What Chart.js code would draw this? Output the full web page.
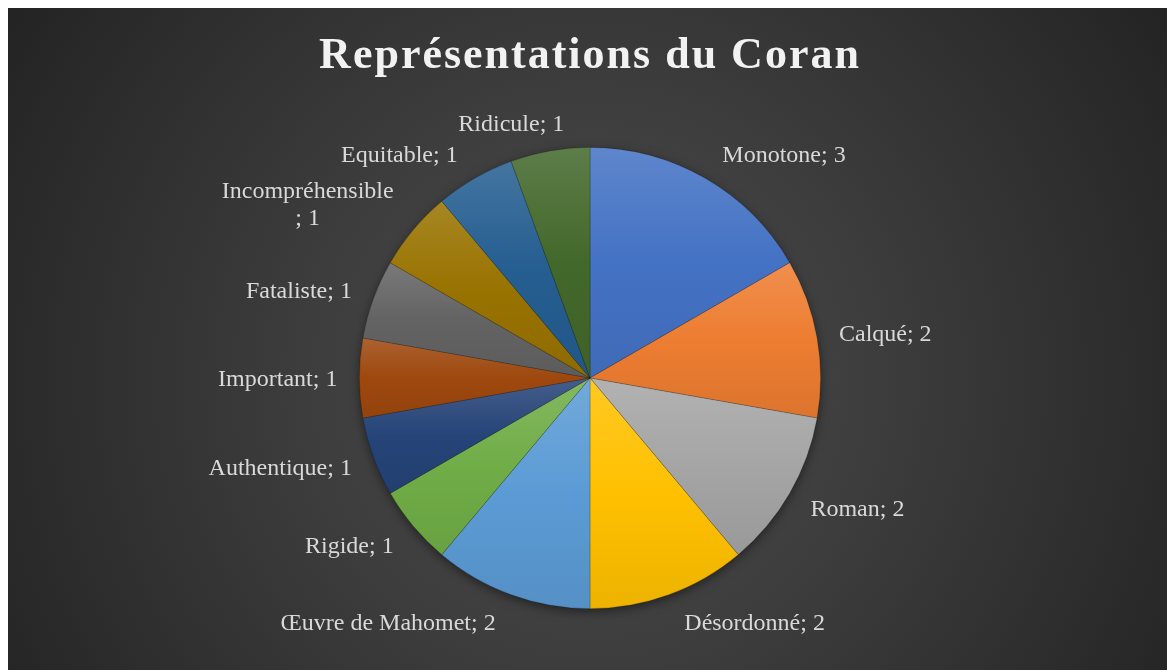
<!DOCTYPE html>
<html lang="fr">
<head>
<meta charset="utf-8">
<title>Représentations du Coran</title>
<script src="https://cdn.jsdelivr.net/npm/chart.js@4.4.1/dist/chart.umd.min.js"></script>
<style>
  html, body { margin: 0; padding: 0; background: #ffffff; }
  canvas { display: block; }
</style>
</head>
<body>
<canvas id="representations" width="1167" height="670"></canvas>
<script>
const titre = "Représentations du Coran";
const categories = [
  "Monotone",
  "Calqué",
  "Roman",
  "Désordonné",
  "Œuvre de Mahomet",
  "Rigide",
  "Authentique",
  "Important",
  "Fataliste",
  "Incompréhensible",
  "Equitable",
  "Ridicule",
];
const valeurs = [3, 2, 2, 2, 2, 1, 1, 1, 1, 1, 1, 1];
const couleurs = [
  "#4472C4", // bleu
  "#ED7D31", // orange
  "#A5A5A5", // gris
  "#FFC000", // or
  "#5B9BD5", // bleu clair
  "#70AD47", // vert
  "#264478", // bleu foncé
  "#9E480E", // orange foncé
  "#636363", // gris foncé
  "#997300", // or foncé
  "#255E91", // bleu acier
  "#43682B", // vert foncé
];
// étiquettes qu'Excel coupe sur deux lignes
const etiquettes_coupees = ["Incompréhensible"];

function melange(hex, cible, t) {
  const a = parseInt(hex.slice(1), 16);
  const b = parseInt(cible.slice(1), 16);
  const ca = [(a >> 16) & 255, (a >> 8) & 255, a & 255];
  const cb = [(b >> 16) & 255, (b >> 8) & 255, b & 255];
  const c = ca.map((v, k) => Math.round(v + (cb[k] - v) * t));
  return `rgb(${c[0]}, ${c[1]}, ${c[2]})`;
}

// dégradé vertical sur la boîte englobante de chaque part
function degradeTranche(context) {
  const chart = context.chart;
  const area = chart.chartArea;
  const i = context.dataIndex;
  if (!area) return couleurs[i];
  const data = chart.data.datasets[0].data;
  const cx = (area.left + area.right) / 2;
  const cy = (area.top + area.bottom) / 2;
  const r = Math.min(area.right - area.left, area.bottom - area.top) / 2;
  const total = data.reduce((s, v) => s + v, 0);
  let debut = 0;
  for (let k = 0; k < i; k++) debut += data[k];
  const a0 = (debut / total) * 2 * Math.PI;
  const a1 = ((debut + data[i]) / total) * 2 * Math.PI;
  const ys = [cy, cy - r * Math.cos(a0), cy - r * Math.cos(a1)];
  if (a0 <= 0.0001 || a1 >= 2 * Math.PI - 0.0001) ys.push(cy - r);
  if (a0 <= Math.PI && a1 >= Math.PI) ys.push(cy + r);
  const yMin = Math.min(...ys);
  const yMax = Math.max(...ys);
  const g = chart.ctx.createLinearGradient(0, yMin, 0, yMax);
  g.addColorStop(0, melange(couleurs[i], "#ffffff", 0.14));
  g.addColorStop(0.5, couleurs[i]);
  g.addColorStop(1, melange(couleurs[i], "#000000", 0.07));
  return g;
}

const plugin_fond = {
  id: "fond",
  beforeDraw: (chart) => {
    const ctx = chart.ctx;
    const w = chart.width;
    const h = chart.height;
    ctx.save();
    ctx.fillStyle = "#ffffff";
    ctx.fillRect(0, 0, w, h);
    const g = ctx.createRadialGradient(590, 380, 0, 590, 380, 680);
    g.addColorStop(0, "#4f4f4f");
    g.addColorStop(1, "#242424");
    ctx.fillStyle = g;
    ctx.fillRect(8, 8, w - 8, h - 8);

    // titre
    ctx.font = "bold 44px 'Liberation Serif', 'Times New Roman', serif";
    ctx.fillStyle = "#f2f2f2";
    ctx.textBaseline = "alphabetic";
    ctx.textAlign = "left";
    if ("letterSpacing" in ctx) ctx.letterSpacing = "2px";
    const largeur = ctx.measureText(titre).width - 2;
    ctx.fillText(titre, 589 - largeur / 2, 68);
    ctx.restore();
  },
};

const plugin_ombre = {
  id: "ombre",
  beforeDatasetsDraw: (chart) => {
    const arc = chart.getDatasetMeta(0).data[0];
    if (!arc) return;
    const ctx = chart.ctx;
    ctx.save();
    ctx.shadowColor = "rgba(0, 0, 0, 0.55)";
    ctx.shadowBlur = 12;
    ctx.shadowOffsetY = 3;
    ctx.fillStyle = "#3a3a3a";
    ctx.beginPath();
    ctx.arc(arc.x, arc.y, arc.outerRadius - 1, 0, 2 * Math.PI);
    ctx.fill();
    ctx.restore();
  },
};

const plugin_etiquettes = {
  id: "etiquettes",
  afterDatasetsDraw: (chart) => {
    const ctx = chart.ctx;
    const meta = chart.getDatasetMeta(0);
    const data = chart.data.datasets[0].data;
    ctx.save();
    ctx.font = "24px 'Liberation Serif', 'Times New Roman', serif";
    ctx.fillStyle = "#d9d9d9";
    ctx.textBaseline = "middle";
    ctx.textAlign = "center";
    const hauteurLigne = 27;
    meta.data.forEach((arc, i) => {
      const milieu = (arc.startAngle + arc.endAngle) / 2;
      const dx = Math.cos(milieu);
      const dy = Math.sin(milieu);
      const ex = arc.x + arc.outerRadius * dx;
      const ey = arc.y + arc.outerRadius * dy;
      const nom = chart.data.labels[i];
      const lignes = etiquettes_coupees.includes(nom)
        ? [nom, "; " + data[i]]
        : [nom + "; " + data[i]];
      const largeur = Math.max(...lignes.map((l) => ctx.measureText(l).width));
      const hauteur = lignes.length * hauteurLigne;
      const ecart = 12 + 10 * Math.abs(dx);
      // près du haut ou du bas, l'étiquette se recentre
      const part = Math.min(1, Math.abs(dx) / 0.3);
      const centreX = ex + Math.sign(dx) * (ecart + largeur / 2) * part;
      const centreY = ey + dy * (15 + hauteur / 2) + 2;
      lignes.forEach((l, k) => {
        const y = centreY - hauteur / 2 + hauteurLigne * (k + 0.5);
        ctx.fillText(l, centreX, y);
      });
    });
    ctx.restore();
  },
};

const ctx = document.getElementById("representations").getContext("2d");
const chart_representations = new Chart(ctx, {
  type: "pie",
  data: {
    labels: categories,
    datasets: [
      {
        label: "Représentations",
        data: valeurs,
        backgroundColor: degradeTranche,
        borderColor: "rgba(0, 0, 0, 0.25)",
        borderWidth: 0.75,
      },
    ],
  },
  options: {
    responsive: false,
    animation: false,
    layout: {
      padding: { left: 359, right: 346, top: 147, bottom: 61 },
    },
    plugins: {
      legend: { display: false },
      title: { display: false },
      tooltip: { enabled: false },
    },
  },
  plugins: [plugin_fond, plugin_ombre, plugin_etiquettes],
});
</script>
</body>
</html>
